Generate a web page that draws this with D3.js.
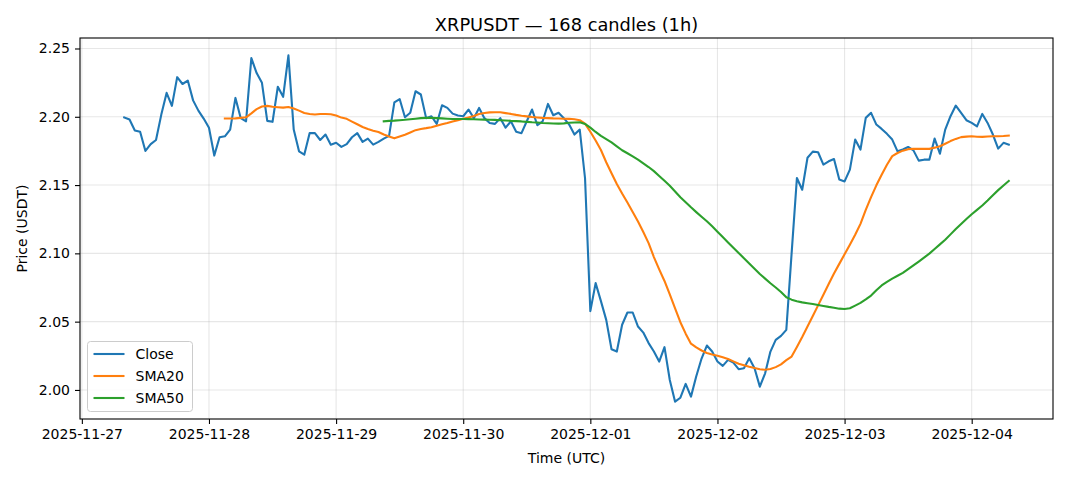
<!DOCTYPE html>
<html lang="en">
<head>
<meta charset="utf-8">
<title>XRPUSDT hourly</title>
<script src="https://d3js.org/d3.v7.min.js"></script>
<style>
  body { margin: 0; background: #fff; }
  svg { display: block; font-family: "DejaVu Sans", sans-serif; }
  .tick text { font-size: 14px; fill: #000; }
</style>
</head>
<body>
<svg id="chart" width="1068" height="481"></svg>
<script>
// hourly candles, first one at 2025-11-27 08:00 UTC
var startTime = Date.UTC(2025, 10, 27, 8);

var closes = [
  2.1995, 2.198, 2.190, 2.189, 2.175, 2.180, 2.183, 2.2016, 2.2175, 2.208,
  2.229, 2.224, 2.2265, 2.212, 2.2045, 2.1987, 2.192, 2.1716, 2.185, 2.1857,
  2.1906, 2.2138, 2.199, 2.1967, 2.243, 2.232, 2.2249, 2.197, 2.1963, 2.222,
  2.2146, 2.245, 2.1906, 2.1747, 2.1723, 2.188, 2.188, 2.183, 2.187, 2.1796,
  2.181, 2.178, 2.180, 2.185, 2.188, 2.1816, 2.184, 2.1796, 2.1816, 2.184,
  2.186, 2.2106, 2.213, 2.1996, 2.2029, 2.2187, 2.2163, 2.199, 2.2004, 2.1948,
  2.2084, 2.2065, 2.2023, 2.2009, 2.2004, 2.2053, 2.199, 2.2065, 2.199, 2.1955,
  2.1948, 2.199, 2.192, 2.1967, 2.189, 2.188, 2.1967, 2.2053, 2.1938, 2.1967,
  2.2094, 2.2011, 2.2029, 2.199, 2.1943, 2.187, 2.1906, 2.155, 2.0577, 2.0782,
  2.065, 2.0513, 2.0298, 2.0281, 2.0477, 2.0567, 2.0567, 2.0464, 2.042, 2.0343,
  2.0281, 2.0208, 2.0313, 2.0073, 1.9914, 1.9943, 2.0044, 1.9951, 2.010, 2.023,
  2.0325, 2.0281, 2.0208, 2.0176, 2.022, 2.020, 2.0152, 2.0159, 2.0232, 2.0159,
  2.0024, 2.0122, 2.0281, 2.0367, 2.0396, 2.044, 2.100, 2.1552, 2.1466, 2.170,
  2.1745, 2.174, 2.165, 2.1674, 2.1691, 2.154, 2.1527, 2.1613, 2.1833, 2.176,
  2.1992, 2.2029, 2.1943, 2.1911, 2.1875, 2.1833, 2.1747, 2.176, 2.1779, 2.1754,
  2.1679, 2.1686, 2.1686, 2.184, 2.173, 2.1906, 2.2004, 2.2082, 2.2029, 2.1975,
  2.1955, 2.193, 2.2021, 2.1955, 2.187, 2.1767, 2.1809, 2.1796
];

// SMA20 starts at candle 19
var sma20Start = 19;
var sma20 = [
  2.1987, 2.1987, 2.1988, 2.1992, 2.1996, 2.2025, 2.2056, 2.2075, 2.2080, 2.2073,
  2.2070, 2.2067, 2.2072, 2.2060, 2.2045, 2.2028, 2.2020, 2.2017, 2.2020, 2.2020,
  2.2018, 2.2010, 2.1994, 2.1985, 2.1965, 2.1945, 2.1925, 2.1910, 2.1898, 2.1888,
  2.1870, 2.1855, 2.1842, 2.1855, 2.1868, 2.1885, 2.1902, 2.1911, 2.1917, 2.1924,
  2.1935, 2.1945, 2.1955, 2.1966, 2.1975, 2.1985, 2.1995, 2.2005, 2.2020, 2.2028,
  2.2032, 2.2033, 2.2033, 2.2027, 2.2021, 2.2014, 2.2008, 2.2003, 2.1998, 2.1995,
  2.1992, 2.1990, 2.1988, 2.1987, 2.1986, 2.1985, 2.1982, 2.1975, 2.1950, 2.1890,
  2.1826, 2.1757, 2.1667, 2.1586, 2.1508, 2.1438, 2.1372, 2.1303, 2.1233, 2.1156,
  2.1075, 2.0973, 2.0883, 2.0798, 2.0699, 2.0598, 2.0496, 2.0412, 2.0339, 2.0311,
  2.0289, 2.0270, 2.0260, 2.0251, 2.0239, 2.0227, 2.0209, 2.0192, 2.0181, 2.0170,
  2.0160, 2.0151, 2.0148, 2.0153, 2.0167, 2.0187, 2.0218, 2.0244, 2.0315, 2.0387,
  2.0464, 2.0542, 2.0619, 2.0697, 2.0775, 2.0852, 2.0923, 2.0993, 2.1063, 2.1136,
  2.1216, 2.1318, 2.1412, 2.1498, 2.1576, 2.1649, 2.1712, 2.1735, 2.1752, 2.1763,
  2.1766, 2.1765, 2.1765, 2.1765, 2.1774, 2.1784, 2.1803, 2.1822, 2.1838, 2.1851,
  2.1855, 2.1857, 2.1854, 2.1853, 2.1856, 2.1857, 2.1857, 2.1859, 2.1862
];

// SMA50 starts at candle 49
var sma50Start = 49;
var sma50 = [
  2.1967, 2.1970, 2.1972, 2.1975, 2.1978, 2.1982, 2.1986, 2.1990, 2.1992, 2.1992,
  2.1990, 2.1988, 2.1986, 2.1984, 2.1984, 2.1984, 2.1983, 2.1982, 2.1980, 2.1979,
  2.1978, 2.1977, 2.1975, 2.1973, 2.1970, 2.1968, 2.1966, 2.1963, 2.1960, 2.1958,
  2.1955, 2.1953, 2.1951, 2.1950, 2.1952, 2.1956, 2.1958, 2.1960, 2.1948, 2.1921,
  2.1889, 2.1860, 2.1836, 2.1812, 2.1784, 2.1755, 2.1733, 2.1710, 2.1686, 2.1659,
  2.1632, 2.1602, 2.1567, 2.1532, 2.1495, 2.1453, 2.1411, 2.1374, 2.1337, 2.1302,
  2.1268, 2.1235, 2.1198, 2.1159, 2.1120, 2.1080, 2.1041, 2.1003, 2.0965, 2.0926,
  2.0888, 2.0849, 2.0815, 2.0781, 2.0750, 2.0717, 2.0678, 2.0661, 2.0650, 2.0641,
  2.0635, 2.0629, 2.0622, 2.0615, 2.0608, 2.0602, 2.0595, 2.0593, 2.0598, 2.0617,
  2.0637, 2.0663, 2.0691, 2.0730, 2.0765, 2.0791, 2.0815, 2.0836, 2.0857, 2.0884,
  2.0912, 2.0940, 2.0969, 2.0998, 2.1032, 2.1066, 2.1100, 2.1139, 2.1178, 2.1215,
  2.1251, 2.1286, 2.1318, 2.1350, 2.1387, 2.1426, 2.1463, 2.1497, 2.1530
];

var yTicks = [2.00, 2.05, 2.10, 2.15, 2.20, 2.25];
var dayTicks = ["2025-11-27", "2025-11-28", "2025-11-29", "2025-11-30",
                "2025-12-01", "2025-12-02", "2025-12-03", "2025-12-04"];

var seriesNames = ["Close", "SMA20", "SMA50"];
var colors = ["#1f77b4", "#ff7f0e", "#2ca02c"];

//Plot box
var margin = {left: 80, right: 15, top: 38, bottom: 62};
var W = 1068, H = 481;
var pw = W - margin.left - margin.right;
var ph = H - margin.top - margin.bottom;

var hour = 3600 * 1000;
var toPoints = function(arr, offset) {
  return arr.map(function(v, i) {
    return {t: new Date(startTime + (i + offset) * hour), v: v};
  });
};
var series = [toPoints(closes, 0), toPoints(sma20, sma20Start), toPoints(sma50, sma50Start)];

// matplotlib style 5% padding
var tExt = [startTime, startTime + (closes.length - 1) * hour];
var tPad = (tExt[1] - tExt[0]) * 0.05;
var vExt = d3.extent(closes);
var vPad = (vExt[1] - vExt[0]) * 0.05;

var xScale = d3.scaleUtc()
  .domain([new Date(tExt[0] - tPad), new Date(tExt[1] + tPad)])
  .range([0, pw]);
var yScale = d3.scaleLinear()
  .domain([vExt[0] - vPad, vExt[1] + vPad])
  .range([ph, 0]);

var svg = d3.select("#chart");
var g = svg.append("g").attr("transform", "translate(" + margin.left + "," + margin.top + ")");

var dayDates = dayTicks.map(function(s) { return new Date(s + "T00:00:00Z"); });

// grid
g.append("g").selectAll("line.v")
  .data(dayDates).enter().append("line")
  .attr("x1", function(d) { return xScale(d); })
  .attr("x2", function(d) { return xScale(d); })
  .attr("y1", 0).attr("y2", ph)
  .attr("stroke", "#b0b0b0").attr("stroke-opacity", 0.3).attr("stroke-width", 1.1);
g.append("g").selectAll("line.h")
  .data(yTicks).enter().append("line")
  .attr("y1", function(d) { return yScale(d); })
  .attr("y2", function(d) { return yScale(d); })
  .attr("x1", 0).attr("x2", pw)
  .attr("stroke", "#b0b0b0").attr("stroke-opacity", 0.3).attr("stroke-width", 1.1);

// lines
var line = d3.line()
  .x(function(d) { return xScale(d.t); })
  .y(function(d) { return yScale(d.v); });

g.append("g").selectAll("path")
  .data(series).enter().append("path")
  .attr("d", line)
  .attr("fill", "none")
  .attr("stroke", function(d, i) { return colors[i]; })
  .attr("stroke-width", 2.1)
  .attr("stroke-linejoin", "round")
  .attr("stroke-linecap", "square");

// axes
var xAxis = d3.axisBottom(xScale)
  .tickValues(dayDates)
  .tickFormat(d3.utcFormat("%Y-%m-%d"))
  .tickSize(5).tickPadding(5);
var yAxis = d3.axisLeft(yScale)
  .tickValues(yTicks)
  .tickFormat(d3.format(".2f"))
  .tickSize(5).tickPadding(5);

var gx = g.append("g").attr("transform", "translate(0," + ph + ")").call(xAxis);
var gy = g.append("g").call(yAxis);
[gx, gy].forEach(function(a) {
  a.select(".domain").remove();
  a.selectAll(".tick line").attr("stroke", "#000").attr("stroke-width", 1.1);
  a.selectAll(".tick text").attr("font-family", "DejaVu Sans");
});

g.append("rect")
  .attr("width", pw).attr("height", ph)
  .attr("fill", "none").attr("stroke", "#000").attr("stroke-width", 1.1);

// title + labels
svg.append("text")
  .attr("x", margin.left + pw / 2).attr("y", 31)
  .attr("text-anchor", "middle")
  .attr("font-size", "17.8px")
  .text("XRPUSDT \u2014 168 candles (1h)");
svg.append("text")
  .attr("x", margin.left + pw / 2).attr("y", 463)
  .attr("text-anchor", "middle")
  .attr("font-size", "14px")
  .text("Time (UTC)");
svg.append("text")
  .attr("transform", "translate(27," + (margin.top + ph / 2) + ") rotate(-90)")
  .attr("text-anchor", "middle")
  .attr("font-size", "14px")
  .text("Price (USDT)");

// legend
var lg = g.append("g").attr("transform", "translate(7.5," + (ph - 77.5) + ")");
lg.append("rect")
  .attr("width", 105).attr("height", 70).attr("rx", 3)
  .attr("fill", "#fff").attr("fill-opacity", 0.8)
  .attr("stroke", "#cccccc");
var items = lg.selectAll("g.item")
  .data(seriesNames).enter().append("g")
  .attr("transform", function(d, i) { return "translate(6," + (12.5 + i * 22) + ")"; });
items.append("line")
  .attr("x1", 0).attr("x2", 31)
  .attr("stroke", function(d, i) { return colors[i]; })
  .attr("stroke-width", 2.1);
items.append("text")
  .attr("x", 42).attr("y", 5)
  .attr("font-size", "14px")
  .text(function(d) { return d; });
</script>
</body>
</html>
